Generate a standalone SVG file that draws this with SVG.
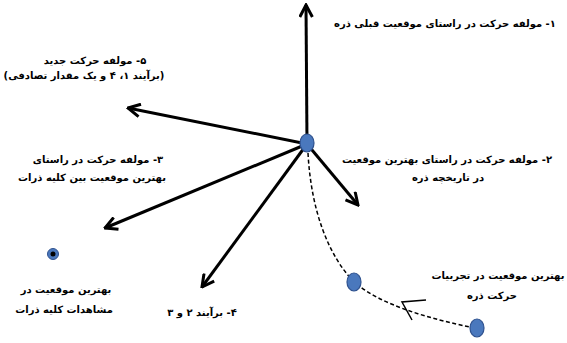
<svg xmlns="http://www.w3.org/2000/svg" width="567" height="343" viewBox="0 0 567 343">
<defs>
<marker id="head" viewBox="0 0 10 10" refX="9" refY="5" markerWidth="5" markerHeight="5" orient="auto" markerUnits="strokeWidth">
<polyline points="1,0.8 9,5 1,9.2" fill="none" stroke="#000" stroke-width="2"/>
</marker>
<style>
.vec{stroke:#000;stroke-width:3;fill:none;marker-end:url(#head)}
.node{fill:#4a78bd;stroke:#2f528f;stroke-width:1.2}
.t{font-family:"DejaVu Sans",sans-serif;font-size:10px;font-weight:bold;fill:#000;direction:rtl;text-anchor:middle}
</style>
</defs>
<rect width="567" height="343" fill="#fff"/>
<g id="connectors">
<line class="vec" x1="307" y1="144" x2="306" y2="5"/>
<line class="vec" x1="307" y1="144" x2="128" y2="108"/>
<line class="vec" x1="307" y1="144" x2="105" y2="228"/>
<line class="vec" x1="307" y1="144" x2="202" y2="287"/>
<line class="vec" x1="307" y1="144" x2="358" y2="205"/>
<path d="M308,153 C311,210 328,255 354,282 C382,306 432,319 470,327" fill="none" stroke="#000" stroke-width="1.5" stroke-dasharray="4,2.5"/>
<polyline points="426,300 402,302 412,320" fill="none" stroke="#000" stroke-width="1.5"/>
</g>
<g id="center-node"><ellipse class="node" cx="307" cy="143" rx="7" ry="9"/></g>
<g id="history-best"><ellipse class="node" cx="354" cy="282" rx="7" ry="9"/></g>
<g id="current-pos"><ellipse class="node" cx="477" cy="328" rx="7" ry="9"/></g>
<g id="global-best"><circle cx="53" cy="254" r="5.5" fill="#4a78bd" stroke="#2f528f"/><circle cx="53" cy="254" r="2.5" fill="#000"/></g>
<g id="label-1"><text class="t" x="445" y="27">۱- مولفه حرکت در راستای موقعیت قبلی ذره</text></g>
<g id="label-5"><text class="t" x="95" y="64">۵- مولفه حرکت جدید</text><text class="t" x="84" y="79">(برآیند ۱، ۴ و یک مقدار تصادفی)</text></g>
<g id="label-3"><text class="t" x="98" y="163">۳- مولفه حرکت در راستای</text><text class="t" x="92" y="181">بهترین موقعیت بین کلیه ذرات</text></g>
<g id="label-2"><text class="t" x="447" y="163">۲- مولفه حرکت در راستای بهترین موقعیت</text><text class="t" x="448" y="181">در تاریخچه ذره</text></g>
<g id="label-gbest"><text class="t" x="66" y="293">بهترین موقعیت در</text><text class="t" x="64" y="313">مشاهدات کلیه ذرات</text></g>
<g id="label-4"><text class="t" x="202" y="316">۴- برآیند ۲ و ۳</text></g>
<g id="label-pbest"><text class="t" x="498" y="279">بهترین موقعیت در تجربیات</text><text class="t" x="492" y="299">حرکت ذره</text></g>
</svg>
